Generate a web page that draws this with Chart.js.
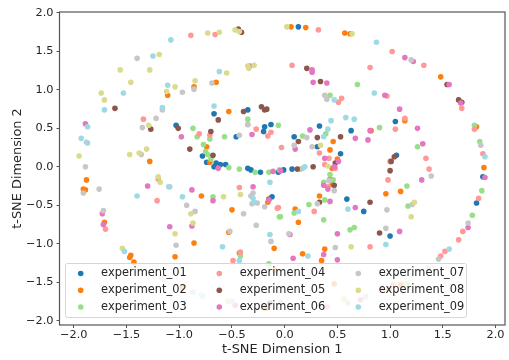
<!DOCTYPE html>
<html>
<head>
<meta charset="utf-8">
<script src="https://cdn.jsdelivr.net/npm/chart.js@4/dist/chart.umd.min.js"></script>
<style>
  html, body { margin: 0; padding: 0; background: #fff; }
  canvas { display: block; }
</style>
</head>
<body>
<canvas id="tsneChart" width="509" height="360"></canvas>
<script>
// t-SNE embedding, one [x, y] list per experiment
const experiment01 = [[-.67,.69],[-.35,.74],[-.19,.52],[-.13,.55],[-.2,.46],[-1.03,.54],[-.46,.39],[-.78,.14],[-.74,.06],[-.65,.05],[-.67,0],[-.61,.03],[-.56,.03],[-.35,-.02],[-.32,-.04],[-.23,-.07],[-.06,-.07],[.13,1.82],[.33,.53],[.63,.47],[1.05,.59],[.09,.39],[.31,.26],[.53,.17],[1.06,.15],[.07,-.03],[-.01,-.04],[1.88,-.13],[.59,-.42],[.75,-.58],[1.82,-.47],[1,-.9],[-.12,-.39]];
const experiment02 = [[-1.11,.93],[-.86,1.04],[-.65,1.1],[-.53,.72],[-.74,.26],[-.71,.06],[-1.28,.07],[.06,1.82],[.2,1.81],[.57,1.74],[.62,1.73],[1.48,1.17],[1.14,.6],[1.82,.52],[.82,.47],[.46,.33],[.43,.22],[.5,.1],[.45,-.02],[1.89,-.01],[.43,-.16],[.45,-.23],[1.1,-.32],[.96,-.35],[.33,-.38],[.1,-.55],[.13,-.72],[.38,-1.07],[.17,-1.13],[.35,-1.22],[-1.88,-.17],[-1.91,-.29],[-1.89,-.3],[-1.71,-.72],[-.79,-.38],[-.5,-.56],[-.86,-.99],[-1.04,-1.17],[-1.46,-1.15],[-1.47,-1.18],[-1.43,-1.24],[-.16,-.46],[-.53,-.85],[-.43,-1.12],[-.1,-1.06],[-.09,-1.35],[.47,-1.52],[-.97,-1.57],[-.18,-1.84],[.99,-1.59],[1.1,-1.53]];
const experiment03 = [[-.35,.62],[-.06,.54],[-.87,.5],[-.83,.39],[-.71,.36],[-.57,.39],[-.77,.29],[-.75,.2],[-.73,.16],[-.7,.1],[-.53,-.01],[-.43,-.03],[-.28,-.07],[-.15,-.07],[.69,1.07],[.43,.93],[1.8,.54],[.39,.43],[.9,.51],[.17,.4],[1.85,.33],[1.26,.26],[-.05,-.04],[.15,-.03],[.43,-.1],[.37,-.2],[.46,-.17],[1.16,-.25],[.38,-.43],[.23,-.49],[1.17,-.51],[.09,-.6],[1.78,-.63],[.37,-.69],[-.04,-.65],[.62,-.82],[.66,-.79],[1.87,-.31],[-.68,-.39],[-.05,-.65],[-.42,-1.16],[-.15,-1.26],[-.53,-1.75],[1.16,-1.52]];
const experiment04 = [[-.89,1.71],[-.66,1.72],[-1.34,.62],[-.35,.55],[-.27,.49],[-.16,.4],[-.13,.45],[-.81,.43],[-.71,.41],[.32,1.78],[1.02,1.5],[1.32,1.32],[.07,1.32],[.81,1.29],[.51,.84],[.54,.89],[.97,.92],[1.68,.76],[1.14,.63],[1.8,.49],[1.05,.49],[-.03,.25],[.33,.18],[.42,.11],[1.88,.17],[1.34,.11],[1,.07],[.38,.03],[.48,-.02],[1.37,-.03],[.98,-.17],[.41,-.26],[.28,-.58],[-.06,-.53],[1.84,-.41],[1.69,-.84],[1.65,-.95],[1.52,-1.1],[1.48,-1.16],[.81,-1.04],[-1.2,-.16],[-1.21,-.44],[-.43,-.27],[-1.7,-.81],[-.07,-.54],[-.42,-1.11],[-.49,-1.22],[.4,-1.82],[1.03,-1.53],[.92,-1.59]];
const experiment05 = [[-.44,1.79],[-.41,1.75],[-1.61,.76],[-1.27,.49],[-.63,.61],[-.39,.72],[-.22,.78],[-.19,.74],[-.17,.75],[-1.01,.5],[-.7,.46],[-.9,.23],[-.68,.15],[.21,1.28],[.34,1.11],[1.54,1.07],[1.65,.87],[1.68,.84],[.31,.38],[.53,.39],[.13,.33],[1.04,.13],[1.01,.07],[.48,.05],[.27,0],[.12,-.03],[1,-.05],[.47,-.24],[.33,-.46],[.81,-.46],[.9,-.86],[-.15,-.42],[-.14,-1.77]];
const experiment06 = [[-.33,1.31],[-1.89,.56],[-.31,.42],[-.98,.39],[-.63,-.02],[-.11,-.06],[1.14,1.42],[1.22,1.37],[.26,1.26],[.26,1.23],[.27,1.1],[.4,1.09],[1.56,1.07],[.95,.93],[1.67,.83],[1.09,.75],[.24,.48],[.81,.47],[1.26,.5],[.67,.37],[.79,.35],[1.31,.3],[.1,.23],[.38,.11],[.51,.07],[.47,0],[-.04,-.05],[1.9,-.14],[1.3,-.17],[.37,-.24],[.41,-.29],[.43,-.45],[.67,-.53],[1.74,-.79],[1.09,-.84],[.05,-.88],[.5,-.87],[.37,-1.14],[.08,-1.19],[.5,-1.21],[-1.3,-.25],[-.88,-.3],[-.68,-.44],[-1.73,-.61],[-1.72,-.75],[-1.09,-.78],[-.88,-.77],[-.3,-.26],[-.15,-.43],[-.47,-1.8],[.72,-1.73]];
const experiment07 = [[-1.4,1.41],[-.97,.97],[-.86,1.01],[-.69,1.09],[-1.16,.74],[-1.22,.63],[-1.35,.51],[-.35,.55],[-.43,.41],[-1.88,.32],[-1.36,.16],[-1.89,0],[1.2,1.39],[.38,.93],[.4,.88],[.21,.38],[1.86,.28],[.09,.28],[.26,.26],[.17,-.02],[1.39,-.12],[.47,-.31],[.42,-.18],[.31,-.48],[1.21,-.49],[.97,-.56],[1.74,-.73],[.96,-.8],[.04,-.87],[.48,-1.05],[1.46,-1.2],[-1.91,-.34],[-1.76,-.29],[-1.09,-.26],[-.93,-.5],[-.85,-.58],[-1.72,-.57],[-1.03,-1.02],[-.39,-.61],[-.27,-.76],[-.3,-.34],[-.32,-.38],[-.31,-.48],[-.26,-.47],[-.19,-.52],[-.52,-.84],[-.13,-.97],[1.36,-1.31],[-.04,-1.76],[.6,-1.77],[.77,-1.69]];
const experiment08 = [[-.73,1.74],[-.62,1.75],[-.47,1.78],[-.43,1.76],[-1.19,1.46],[-1.56,1.26],[-1.28,1.26],[-1.46,1.1],[-1.04,1.04],[-1.12,.98],[-.85,1.12],[-.55,1.22],[-.35,1.31],[-.34,1.28],[-.29,1.32],[-1.74,.96],[-1.71,.87],[-1.29,.54],[-1.95,.14],[-1.31,.23],[-1.38,.18],[-1.47,.16],[.02,1.82],[.64,1.73],[.34,.28],[.41,.01],[1.23,-.46],[1.2,-.65],[.63,-1.04],[-1.2,-.13],[-1.18,-.2],[-.58,-.39],[-.42,-.36],[-.89,-.61],[-.87,-.73],[-1.04,-.87],[-1.54,-1.06],[-1.15,-1.46],[-.54,-1.75],[.56,-1.72]];
const experiment09 = [[-1.08,1.65],[-1.25,1.44],[-1.11,1.06],[-1.53,.96],[-1.71,.74],[-.62,1.24],[-1.16,.77],[-.67,.79],[-1.87,.52],[-1.93,.37],[-1.87,.31],[.87,1.62],[.47,.87],[.85,.96],[.44,.6],[.58,.64],[.66,.62],[.41,.49],[.37,.39],[1.9,.13],[.19,0],[.13,-.58],[.6,-.55],[1.56,-1.07],[.96,-1.01],[.22,-1.16],[-1.1,-.26],[-1.4,-.38],[-.97,-.39],[-.14,-.2],[-.3,-.41],[-.29,-.46],[-.14,-.88],[-.59,-1.04],[-.43,-1.22],[-1.52,-1.1],[-1.17,-1.44],[-.87,-1.63],[-.79,-1.67],[-.78,-1.68],[-.5,-1.75]];

const seriesNames = ['experiment_01','experiment_02','experiment_03','experiment_04','experiment_05','experiment_06','experiment_07','experiment_08','experiment_09'];
const seriesValues = [experiment01,experiment02,experiment03,experiment04,experiment05,experiment06,experiment07,experiment08,experiment09];
const seriesColors = ['#1f77b4','#ff7f0e','#98df8a','#ff9896','#8c564b','#e377c2','#c7c7c7','#dbdb8d','#9edae5'];

const FONT = '"DejaVu Sans", sans-serif';
const textColor = '#262626';

// frame on all four sides plus a matplotlib style legend sitting inside the axes
const frameAndLegend = {
    id: 'frameAndLegend',
    afterDatasetsDraw(chart) {
        const { ctx, chartArea: a } = chart;
        ctx.save();
        ctx.strokeStyle = '#555';
        ctx.lineWidth = 1.2;
        ctx.strokeRect(a.left, a.top, a.right - a.left, a.bottom - a.top);

        // legend box
        ctx.beginPath();
        ctx.roundRect(65.5, 263.5, 401, 54, 2);
        ctx.fillStyle = 'rgba(255,255,255,0.8)';
        ctx.fill();
        ctx.strokeStyle = 'rgba(204,204,204,0.8)';
        ctx.lineWidth = 1;
        ctx.stroke();

        const colX = [80.7, 219.3, 358.3];
        const rowY = [273.5, 290.3, 307];
        ctx.font = '11.4px ' + FONT;
        ctx.textBaseline = 'middle';
        chart.data.datasets.forEach((ds, i) => {
            const col = Math.floor(i / 3), row = i % 3;
            ctx.beginPath();
            ctx.arc(colX[col], rowY[row], 2.8, 0, Math.PI * 2);
            ctx.fillStyle = ds.backgroundColor;
            ctx.fill();
            ctx.fillStyle = textColor;
            ctx.fillText(ds.label, colX[col] + 20.4, rowY[row]);
        });
        ctx.restore();
    }
};

const axisOptions = (label, min, max, tickPad, titlePadding, fit) => ({
    type: 'linear',
    min: min,
    max: max,
    grid: { drawOnChartArea: false, drawTicks: true, tickLength: 3, color: '#555', lineWidth: 1 },
    border: { display: false },
    ticks: {
        stepSize: 0.5,
        includeBounds: false,
        autoSkip: false,
        maxRotation: 0,
        padding: tickPad,
        color: textColor,
        font: { family: FONT, size: 11.3 },
        callback: v => v.toFixed(1).replace('-', '\u2212')
    },
    title: {
        display: true,
        text: label,
        color: textColor,
        font: { family: FONT, size: 12.9 },
        padding: titlePadding
    },
    afterFit: fit
});

new Chart(document.getElementById('tsneChart'), {
    type: 'scatter',
    data: {
        datasets: seriesNames.map((name, i) => ({
            label: name,
            data: seriesValues[i].map(p => ({ x: p[0], y: p[1] })),
            backgroundColor: seriesColors[i],
            borderWidth: 0,
            pointRadius: 2.8,
            order: seriesNames.length - i
        }))
    },
    options: {
        responsive: false,
        animation: false,
        layout: { padding: { top: 12, right: 1, left: 0, bottom: 0 } },
        plugins: { legend: { display: false }, tooltip: { enabled: false } },
        scales: {
            x: axisOptions('t-SNE Dimension 1', -2.136, 2.09, 0, { top: 0, bottom: 3 }, s => { s.height = 35; }),
            y: axisOptions('t-SNE Dimension 2', -2.057, 2.013, 3, { top: 10, bottom: 0 }, s => { s.width = 59.5; })
        }
    },
    plugins: [frameAndLegend]
});
</script>
</body>
</html>
